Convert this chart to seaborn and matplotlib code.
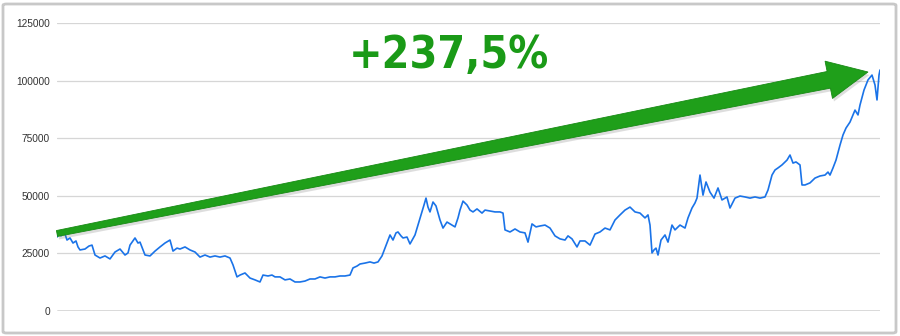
import numpy as np
import pandas as pd
import seaborn as sns
import matplotlib
matplotlib.use("Agg")
import matplotlib.pyplot as plt
from matplotlib.patches import Polygon, FancyBboxPatch
from matplotlib import font_manager as fm

# ---- data ----
day = [0, 2, 4, 6, 8, 10, 13, 16, 19, 21, 23, 28, 32, 35, 38, 43, 48, 53, 58, 63,
       68, 71, 73, 78, 81, 83, 88, 93, 98, 103, 108, 113, 116, 120, 123, 128, 133, 138,
       143, 148, 153, 158, 163, 168, 173, 176, 180, 183, 188, 193, 198, 203, 206, 211,
       215, 218, 223, 228, 233, 238, 243, 248, 253, 258, 263, 268, 273, 278, 283, 288,
       293, 296, 300, 303, 308, 313, 317, 321, 325, 328, 331, 333, 336, 339, 341, 344,
       346, 350, 353, 358, 361, 365, 367, 369, 371, 373, 376, 379, 383, 386, 390, 395,
       398, 401, 403, 406, 410, 413, 416, 420, 425, 428, 433, 438, 443, 446, 448, 453,
       458, 463, 468, 471, 475, 479, 483, 488, 493, 498, 503, 508, 511, 515, 520, 523,
       528, 533, 538, 543, 548, 553, 558, 563, 568, 573, 578, 583, 588, 591, 593, 595,
       597, 599, 601, 604, 608, 611, 615, 618, 623, 628, 631, 635, 638, 640, 643, 646,
       649, 653, 657, 661, 665, 670, 673, 678, 683, 688, 693, 698, 703, 708, 711, 715,
       718, 721, 725, 730, 733, 736, 739, 743, 745, 748, 753, 758, 763, 768, 771, 773,
       776, 779, 783, 786, 789, 793, 796, 798, 801, 803, 807, 811, 815, 818, 820, 822, 823]
price = [32100, 33900, 32600, 34700, 33400, 30800, 31700, 29500, 30400, 27800, 26500,
         26900, 28200, 28600, 24300, 23000, 23900, 22600, 25600, 26900, 24300, 25200,
         28600, 31700, 29500, 29900, 24300, 23900, 26000, 27800, 29500, 30800, 26000,
         27300, 26900, 27800, 26500, 25600, 23400, 24300, 23400, 23900, 23400, 23900,
         23000, 20000, 14800, 15600, 16500, 14300, 13500, 12600, 15600, 15200, 15600,
         14800, 14800, 13500, 13900, 12600, 12600, 13000, 13900, 13900, 14800, 14300,
         14800, 14800, 15200, 15200, 15600, 18700, 19500, 20400, 20800, 21300, 20800,
         21300, 23900, 27300, 30800, 33000, 30800, 33900, 34300, 32600, 31700, 32100,
         29100, 33000, 37300, 43000, 46000, 49000, 45100, 43000, 47300, 45600, 39500,
         36000, 38600, 37300, 36500, 40400, 43800, 47700, 46000, 43800, 43000, 44300,
         42500, 43800, 43400, 43000, 43000, 42500, 35200, 34300, 35600, 34300, 33900,
         29900, 37800, 36500, 36900, 37300, 36000, 32600, 31300, 30800, 32600, 31300,
         27800, 30400, 30400, 28600, 33400, 34300, 36000, 35200, 39500, 41700, 43800,
         45100, 43000, 42500, 40400, 41700, 37300, 25200, 26500, 27300, 24300, 30800,
         33000, 29900, 37300, 35200, 37300, 36000, 40400, 44700, 46900, 49000, 59000,
         50300, 56000, 51600, 49000, 53400, 48200, 49500, 44700, 49000, 49900, 49500,
         49000, 49500, 49000, 49500, 52500, 59000, 61200, 62100, 63400, 65500, 67700,
         64200, 64700, 63400, 54700, 54700, 55600, 57700, 58600, 59000, 60300, 59000,
         62100, 65500, 72000, 76400, 79400, 82000, 85100, 87200, 85100, 89400, 95900,
         100300, 102400, 98100, 91600, 102400, 104600]
n = min(len(day), len(price))
df = pd.DataFrame({"day": day[:n], "price": price[:n]})

y_ticks = [0, 25000, 50000, 75000, 100000, 125000]
y_labels = ["0", "25000", "50000", "75000", "100000", "125000"]
annotation_text = "+237,5%"

# ---- figure ----
sns.set_theme(style="white")
plt.rcParams["font.family"] = ["Liberation Sans", "DejaVu Sans"]

W, H = 900, 336
fig = plt.figure(figsize=(W / 100, H / 100), dpi=100)
fig.patch.set_facecolor("white")

ax = fig.add_axes([57 / W, (H - 311) / H, (880 - 57) / W, (311 - 23) / H])
ax.set_facecolor("white")

sns.lineplot(data=df, x="day", y="price", ax=ax, color="#1a73e8", linewidth=1.2)

ax.set_xlim(0, 823)
ax.set_ylim(0, 125000)
ax.set_yticks(y_ticks)
ax.set_yticklabels(y_labels, fontsize=7.3, color="#333333")
ax.set_xticks([])
ax.set_xlabel("")
ax.set_ylabel("")
ax.tick_params(axis="y", length=0, pad=5)
for s in ax.spines.values():
    s.set_visible(False)
for t in y_ticks[1:]:
    ax.axhline(t, color="#d6d6d6", lw=0.9, zorder=0)
ax.axhline(0, color="#444444", lw=1.0, zorder=1)

# ---- arrow annotation (figure pixel geometry) ----
def to_fig(pts):
    return [(x / W, 1 - y / H) for x, y in pts]

tail = np.array([57.0, 233.5])
tip = np.array([868.0, 72.0])
d = (tip - tail) / np.linalg.norm(tip - tail)
nrm = np.array([-d[1], d[0]])
if nrm[1] < 0:
    nrm = -nrm
head_len, head_half = 40.0, 19.0
w0, w1 = 3.0, 8.5
base = tip - head_len * d
pts = [tail - w0 * nrm, base - w1 * nrm, base - head_half * nrm, tip,
       base + head_half * nrm, base + w1 * nrm, tail + w0 * nrm]
shadow = [(p[0] + 1.5, p[1] + 3.0) for p in pts]
fig.patches.append(Polygon(to_fig(shadow), closed=True, transform=fig.transFigure,
                           facecolor="#7a7a7a", edgecolor="none", alpha=0.25, zorder=4))
fig.patches.append(Polygon(to_fig(pts), closed=True, transform=fig.transFigure,
                           facecolor="#1f9f1a", edgecolor="#178a14", lw=0.6, zorder=5))

# pick a condensed bold face if one is installed
cond = [f for f in fm.fontManager.ttflist
        if ("Condensed" in f.name or "Narrow" in f.name or f.stretch in ("condensed", 700, "semi-condensed"))
        and f.weight in ("bold", 700, "heavy", 800, 900, "black")]
if cond:
    fam = cond[0].name
    fstretch = cond[0].stretch
    fsize = 32
else:
    fam = "DejaVu Sans"
    fstretch = "normal"
    fsize = 28
fig.text(449 / W, 1 - 56 / H, annotation_text, ha="center", va="center",
         fontsize=fsize, fontweight="bold", color="#1a9a17", fontstretch=fstretch,
         family=[fam, "DejaVu Sans"], zorder=6)

# ---- outer border ----
fig.patches.append(FancyBboxPatch((3 / W, 3 / H), (W - 7) / W, (H - 7) / H,
                                  boxstyle="round,pad=0,rounding_size=0.004",
                                  transform=fig.transFigure, facecolor="none",
                                  edgecolor="#c8c8c8", lw=2, zorder=7))

fig.savefig("out.png", dpi=100, facecolor="white")
